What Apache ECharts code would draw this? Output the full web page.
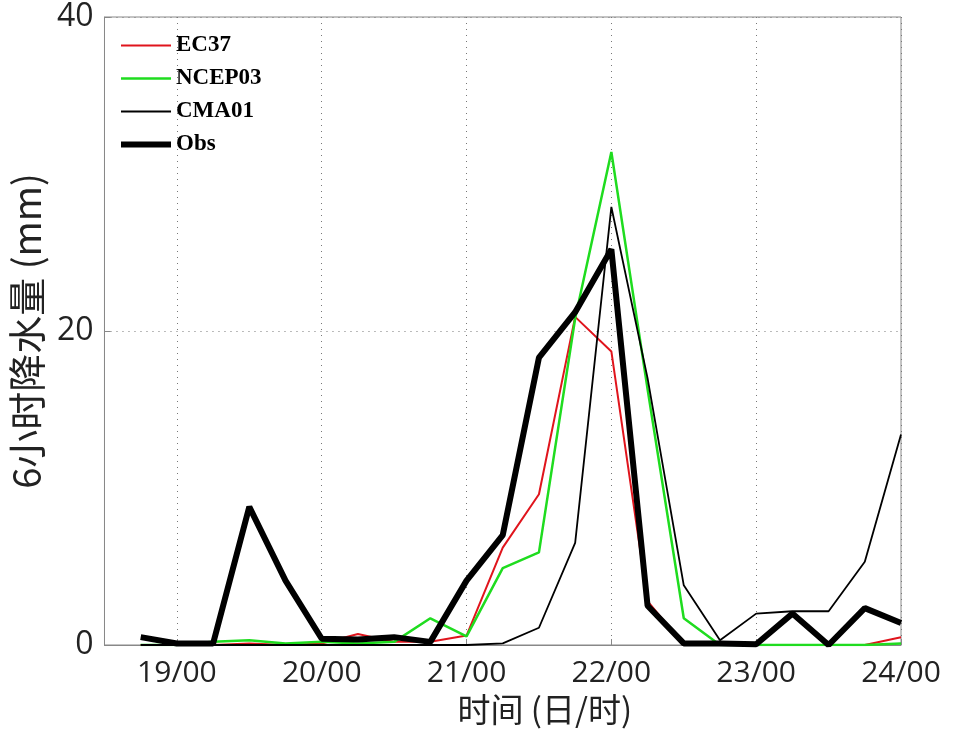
<!DOCTYPE html>
<html>
<head>
<meta charset="utf-8">
<script src="https://cdn.jsdelivr.net/npm/echarts@6/dist/echarts.min.js"></script>
<style>html,body{margin:0;padding:0;background:#fff}#c{width:954px;height:731px}</style>
</head>
<body>
<div id="c"></div>
<script>
// 6-hourly time steps (day/hour), 18/12 .. 24/00
const categories = ["18/12","18/18","19/00","19/06","19/12","19/18","20/00","20/06","20/12","20/18",
  "21/00","21/06","21/12","21/18","22/00","22/06","22/12","22/18","23/00","23/06","23/12","23/18","24/00"];
const ec37   = [null, 0, 0, 0, 0.1, 0, 0.1, 0.7, 0.2, 0.2, 0.6, 6.2, 9.6, 20.9, 18.7, 2.8, 0, 0, 0, 0, 0, 0, 0.5];
const ncep03 = [null, 0, 0, 0.2, 0.3, 0.1, 0.2, 0.1, 0.2, 1.7, 0.55, 4.9, 5.9, 20.8, 31.4, 16.3, 1.7, 0, 0, 0, 0, 0, 0.1];
const cma01  = [null, 0, 0, 0, 0, 0, 0, 0, 0, 0, 0, 0.1, 1.1, 6.5, 27.9, 17.0, 3.8, 0.3, 2.0, 2.15, 2.15, 5.3, 13.4];
const obs    = [null, 0.5, 0.1, 0.1, 8.8, 4.1, 0.4, 0.35, 0.5, 0.2, 4.1, 7.0, 18.3, 21.2, 25.2, 2.5, 0.1, 0.1, 0.05, 2.0, 0, 2.35, 1.4];
const yTicks = [0, 20, 40];

const isDay = (i, v) => String(v).endsWith('/00');
const chart = echarts.init(document.getElementById('c'));
const tickFont = '"Liberation Sans Narrow", "Open Sans", sans-serif';
const cjkFont = '"Noto Sans CJK SC", "Open Sans", sans-serif';
const legendItem = (name, w) => ({ name: name, lineStyle: { width: w }, itemStyle: { opacity: 0 } });
chart.setOption({
  animation: false,
  backgroundColor: '#fff',
  grid: { left: 102, right: 53, top: 17, bottom: 85, show: true, borderColor: '#888', borderWidth: 1 },
  legend: {
    orient: 'vertical', left: 113, top: 29, padding: 5, itemWidth: 50, itemHeight: 14, itemGap: 10,
    textStyle: { fontFamily: '"Liberation Serif", serif', fontWeight: 'bold', fontSize: 23, color: '#000', padding: [0,0,0,0] },
    itemStyle: { opacity: 0 },
    data: [legendItem('EC37', 2), legendItem('NCEP03', 2.5), legendItem('CMA01', 1.8), legendItem('Obs', 6)]
  },
  xAxis: {
    type: 'category', data: categories, boundaryGap: false,
    name: '时间 (日/时)', nameLocation: 'middle', nameGap: 48,
    nameTextStyle: { fontFamily: cjkFont, fontSize: 33, color: '#222', padding: [0, 0, 0, 84] },
    axisLine: { lineStyle: { color: '#888' } },
    axisTick: { inside: true, interval: isDay, length: 6, lineStyle: { color: '#888' } },
    axisLabel: { interval: isDay, margin: 13, fontFamily: tickFont, fontSize: 30, color: '#222' },
    splitLine: { show: true, interval: isDay, lineStyle: { type: [1, 5], color: '#777', width: 1 } }
  },
  yAxis: {
    type: 'value', min: yTicks[0], max: yTicks[yTicks.length - 1], interval: 20,
    name: '6小时降水量 (mm)', nameLocation: 'middle', nameGap: 44,
    nameTextStyle: { fontFamily: cjkFont, fontSize: 38, color: '#222' },
    axisLine: { show: true, lineStyle: { color: '#888' } },
    axisTick: { show: true, inside: true, length: 6, lineStyle: { color: '#888' } },
    axisLabel: { margin: 11, fontFamily: tickFont, fontSize: 32, color: '#222' },
    splitLine: { show: true, lineStyle: { type: [1, 5], color: '#777', width: 1 } }
  },
  series: [
    { name: 'EC37', type: 'line', data: ec37, symbol: 'none', lineStyle: { color: '#e0141c', width: 2 }, itemStyle: { color: '#e0141c' } },
    { name: 'NCEP03', type: 'line', data: ncep03, symbol: 'none', lineStyle: { color: '#1fdc1f', width: 2.5 }, itemStyle: { color: '#1fdc1f' } },
    { name: 'CMA01', type: 'line', data: cma01, symbol: 'none', lineStyle: { color: '#000', width: 1.8 }, itemStyle: { color: '#000' } },
    { name: 'Obs', type: 'line', data: obs, symbol: 'none', lineStyle: { color: '#000', width: 6 }, itemStyle: { color: '#000' } }
  ]
});
</script>
</body>
</html>
